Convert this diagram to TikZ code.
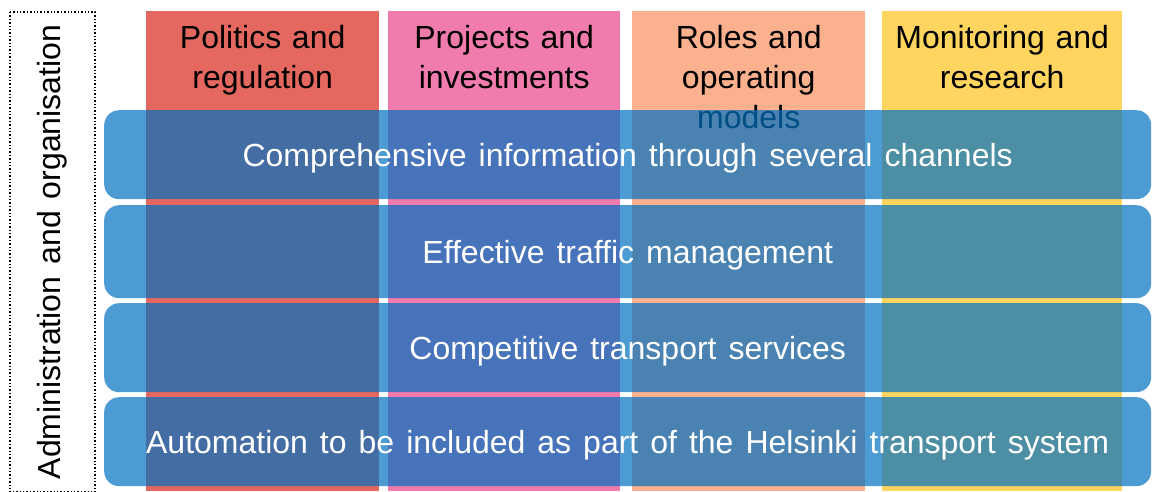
\documentclass[tikz,border=0pt]{standalone}
\usepackage{fontspec}
\setmainfont[WordSpace={1.35,1,1}]{Liberation Sans}
\definecolor{colred}{HTML}{E4685F}
\definecolor{colpink}{HTML}{F07CAE}
\definecolor{colpeach}{HTML}{FBB08E}
\definecolor{colyellow}{HTML}{FFD55F}
\definecolor{bandblue}{HTML}{0070C0}
\begin{document}
\begin{tikzpicture}[x=1pt,y=-1pt,
  colbox/.style={draw=none, anchor=north west, minimum width=233pt, minimum height=480pt, inner sep=0pt},
  head/.style={anchor=north, align=center, text width=236pt, inner sep=0pt,
    font=\fontsize{32pt}{40pt}\selectfont, text=black},
  band/.style={draw=none, anchor=north west, minimum width=1047pt, minimum height=89pt,
    rounded corners=15pt, fill=bandblue, fill opacity=0.7, text opacity=1, text=white,
    text height=23pt, text depth=0pt,
    font=\fontsize{32pt}{38pt}\selectfont, inner sep=0pt},
  side/.style={draw, dotted, line width=1.4pt, rotate=90, minimum width=480pt, minimum height=85pt,
    inner sep=0pt, font=\fontsize{32pt}{38pt}\selectfont}]
\useasboundingbox (0,0) rectangle (1157,491);
% columns
\node[colbox, fill=colred] (c1) at (146,11) {};
\node[colbox, fill=colpink, minimum width=232pt] (c2) at (388,11) {};
\node[colbox, fill=colpeach] (c3) at (632,11) {};
\node[colbox, fill=colyellow, minimum width=240pt] (c4) at (882,11) {};
\node[head] (h1) at ([yshift=-14pt]c1.north) {Politics and\\regulation};
\node[head] (h2) at ([yshift=-14pt]c2.north) {Projects and\\investments};
\node[head] (h3) at ([yshift=-14pt]c3.north) {Roles and\\operating\\models};
\node[head] (h4) at ([yshift=-14pt]c4.north) {Monitoring and\\research};
% bands
\node[band] (b1) at (104,110) {Comprehensive information through several channels};
\node[band, minimum height=93pt] (b2) at (104,205) {Effective traffic management};
\node[band] (b3) at (104,303) {Competitive transport services};
\node[band] (b4) at (104,397) {Automation to be included as part of the Helsinki transport system};
% side label
\node[side] (s) at (52.5,252) {Administration and organisation};
\end{tikzpicture}
\end{document}
